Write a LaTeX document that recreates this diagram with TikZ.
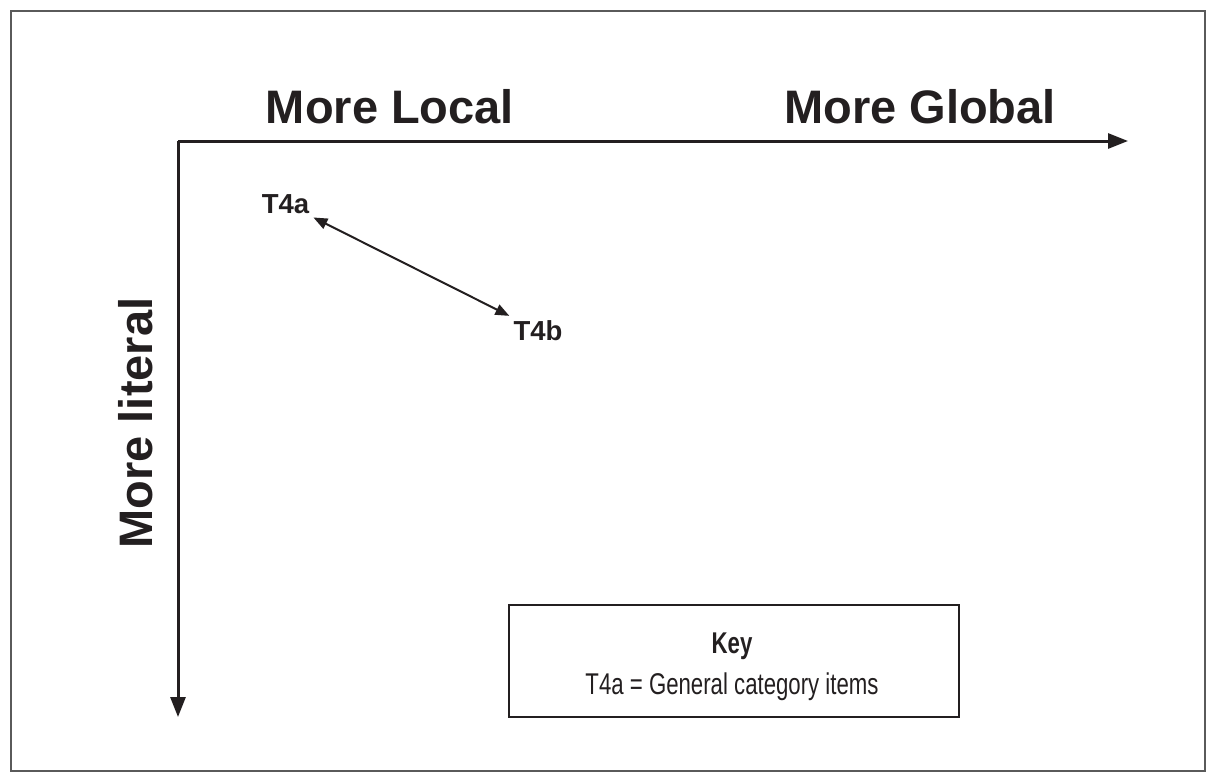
\documentclass[tikz,border=0pt]{standalone}
\usepackage{fontspec}
\setmainfont{Liberation Sans}
\newfontfamily\narrowsans[FakeStretch=0.74]{Liberation Sans}
\usetikzlibrary{arrows.meta}

\definecolor{inkgray}{RGB}{35,31,32}
\definecolor{framegray}{RGB}{90,90,90}

\begin{document}
\begin{tikzpicture}[x=1pt,y=-1pt,
  axislabel/.style={font=\fontsize{47}{56}\selectfont\bfseries,text=inkgray,inner sep=0pt,anchor=base},
  itemlabel/.style={font=\fontsize{27.5}{33}\selectfont\bfseries,text=inkgray,inner sep=4pt,anchor=base},
  keytext/.style={font=\narrowsans\fontsize{30}{36}\selectfont,text=inkgray,inner sep=0pt,anchor=base},
  axisline/.style={draw=inkgray,line width=3pt,-{Triangle[length=20pt,width=15pt]}},
  linkline/.style={draw=inkgray,line width=2pt,{Triangle[length=14pt,width=11pt]}-{Triangle[length=14pt,width=11pt]}}]
\useasboundingbox (0,0) rectangle (1216,782);
\draw [framegray,line width=1.5pt] (11,11) rectangle (1205,771);
% axes
\coordinate (origin) at (178,141);
\coordinate (globalend) at (1128,141);
\coordinate (literalend) at (178,717);
\draw [axisline] (origin) -- (globalend);
\draw [axisline] (origin) -- (literalend);
\node [axislabel] (local) at (390,123) {More Local};
\node [axislabel] (global) at (920,123) {More Global};
\node [axislabel,rotate=90] (literal) at (152,423) {More literal};
% items
\node [itemlabel] (t4a) at (285.5,213) {T4a};
\node [itemlabel] (t4b) at (538,340) {T4b};
\draw [linkline] (t4a.south east) -- (t4b.north west);
% key
\node [draw=inkgray,line width=1.5pt,minimum width=450pt,minimum height=112pt,inner sep=0pt] (keybox) at (734,661) {};
\node [keytext,font=\narrowsans\fontsize{30}{36}\selectfont\bfseries] (keytitle) at (732,653) {Key};
\node [keytext] (keyentry) at (732,694) {T4a = General category items};
\end{tikzpicture}
\end{document}
